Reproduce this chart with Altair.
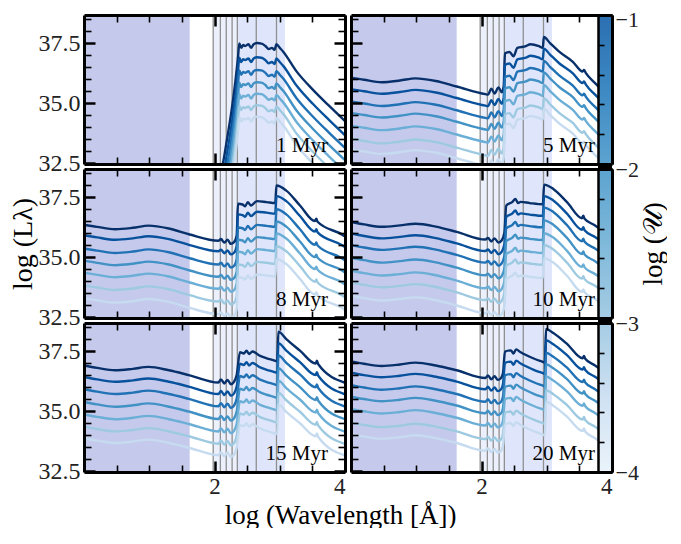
import altair as alt
import pandas as pd

FONT = "Liberation Serif"

AGES = ["1 Myr", "5 Myr", "8 Myr", "10 Myr", "15 Myr", "20 Myr"]
LOGU = [-1.0, -1.5, -2.0, -2.5, -3.0, -3.5, -4.0]

# log U = -1 spectrum of each age (log wavelength [A], log L)
WAVE_1 = [2.06, 2.13, 2.18, 2.26, 2.32, 2.36, 2.38, 2.41, 2.44, 2.47, 2.52, 2.56, 2.60, 2.65, 2.72, 2.78,
          2.83, 2.88, 2.92, 2.95, 3.00, 3.05, 3.26, 3.51, 3.75, 4.0]
LUM_1 = [31.9, 32.5, 33.3, 34.66, 35.9, 36.9, 37.48, 37.3, 37.42, 37.38, 37.45, 37.3, 37.45, 37.5, 37.48, 37.38,
         37.25, 37.3, 37.22, 37.45, 37.3, 37.15, 36.31, 35.55, 34.9, 34.25]
WAVE_5 = [0.0, 0.2, 0.47, 0.75, 0.99, 1.3, 1.62, 2.06, 2.10, 2.15, 2.20, 2.26, 2.31, 2.34, 2.36, 2.43, 2.49,
          2.55, 2.68, 2.75, 2.88, 2.94, 2.955, 3.05, 3.19, 3.40, 3.55, 3.57, 3.60, 3.74, 4.0]
LUM_5 = [36.06, 35.97, 35.87, 35.94, 36.03, 35.92, 35.69, 35.37, 35.35, 35.6, 35.4, 35.65, 35.45, 35.7, 37.07,
         37.13, 36.95, 37.3, 37.37, 37.45, 37.37, 37.3, 37.75, 37.5, 37.14, 36.72, 36.31, 36.38, 36.25, 35.83, 35.2]
WAVE_8 = [0.0, 0.2, 0.48, 0.75, 0.99, 1.3, 1.62, 2.06, 2.10, 2.15, 2.20, 2.25, 2.30, 2.34, 2.36, 2.43, 2.47,
          2.51, 2.56, 2.65, 2.80, 2.93, 2.95, 3.10, 3.31, 3.54, 3.56, 3.58, 3.97, 4.0]
LUM_8 = [36.35, 36.26, 36.16, 36.22, 36.31, 36.19, 35.94, 35.68, 35.75, 35.6, 35.72, 35.55, 35.62, 35.9, 37.22,
         37.19, 37.12, 37.29, 37.15, 37.33, 37.29, 37.25, 37.98, 37.77, 37.15, 36.5, 36.6, 36.47, 35.91, 35.85]
WAVE_10 = [0.0, 0.2, 0.47, 0.75, 0.99, 1.3, 1.62, 2.06, 2.10, 2.15, 2.20, 2.26, 2.31, 2.35, 2.38, 2.47, 2.52,
           2.56, 2.60, 2.74, 2.94, 2.96, 3.10, 3.31, 3.54, 3.56, 3.58, 3.74, 4.0]
LUM_10 = [36.46, 36.36, 36.26, 36.32, 36.39, 36.27, 36.05, 35.73, 35.8, 35.65, 35.78, 35.6, 35.7, 36.0, 37.15,
          37.29, 37.42, 37.25, 37.3, 37.25, 37.2, 38.02, 37.84, 37.29, 36.62, 36.72, 36.6, 36.32, 35.8]
WAVE_15 = [0.0, 0.2, 0.48, 0.75, 0.99, 1.3, 1.62, 2.06, 2.10, 2.15, 2.20, 2.25, 2.30, 2.34, 2.39, 2.45, 2.49,
           2.53, 2.58, 2.70, 2.80, 2.90, 2.96, 2.98, 3.10, 3.31, 3.55, 3.57, 3.59, 4.0]
LUM_15 = [36.9, 36.8, 36.7, 36.76, 36.84, 36.7, 36.49, 36.19, 36.32, 36.15, 36.3, 36.12, 36.22, 36.5, 37.45,
          37.4, 37.52, 37.38, 37.48, 37.3, 37.2, 37.12, 37.07, 38.31, 38.0, 37.52, 36.98, 37.1, 36.95, 36.18]
WAVE_20 = [0.0, 0.2, 0.47, 0.75, 0.99, 1.3, 1.62, 2.06, 2.10, 2.15, 2.20, 2.25, 2.30, 2.33, 2.36, 2.45, 2.49,
           2.53, 2.60, 2.81, 2.94, 2.97, 2.99, 3.10, 3.31, 3.55, 3.57, 3.59, 3.74, 4.0]
LUM_20 = [37.07, 36.97, 36.88, 36.94, 37.02, 36.9, 36.7, 36.38, 36.48, 36.32, 36.45, 36.3, 36.38, 36.6, 37.48,
          37.53, 37.4, 37.57, 37.45, 37.18, 37.05, 37.02, 38.42, 38.25, 37.8, 37.2, 37.3, 37.18, 36.9, 36.4]

# drop of each lower-U curve below the log U = -1 curve (dex), per age
DROP_1 = [0.0, 0.59, 1.12, 1.63, 2.11, 2.59, 3.07]
DROP_5 = [0.0, 0.48, 0.99, 1.47, 2.0, 2.55, 2.99]
DROP_8 = [0.0, 0.44, 0.99, 1.5, 2.0, 2.53, 3.06]
DROP_10 = [0.0, 0.48, 0.96, 1.49, 2.03, 2.52, 3.07]
DROP_15 = [0.0, 0.48, 0.99, 1.52, 2.04, 2.55, 3.03]
DROP_20 = [0.0, 0.47, 0.99, 1.47, 1.98, 2.55, 3.03]

WAVES = [WAVE_1, WAVE_5, WAVE_8, WAVE_10, WAVE_15, WAVE_20]
LUMS = [LUM_1, LUM_5, LUM_8, LUM_10, LUM_15, LUM_20]
DROPS = [DROP_1, DROP_5, DROP_8, DROP_10, DROP_15, DROP_20]

SHADE_XRAY = [0.0, 1.62]
SHADE_EDGE = [1.98, 2.35]
SHADE_EUV = [2.35, 3.08]
EDGE_LINES = [1.98, 2.09, 2.18, 2.27, 2.35, 2.64, 2.95]

X_MAJOR = [2, 4]
X_MINOR = [0.5, 1.0, 1.5, 2.5, 3.0, 3.5]
Y_MAJOR = [32.5, 35.0, 37.5]
Y_MINOR = [33.0, 33.5, 34.0, 34.5, 35.5, 36.0, 36.5, 37.0, 38.0, 38.5]

# colour bar: one segment per row of panels (log U range, tick values)
CB_SEGMENTS = [[-2.0, -1.0], [-3.0, -2.0], [-4.0, -3.0]]
CB_MAJOR = [[-1], [-2], [-3, -4]]
CB_MINOR = [[-1.8, -1.6, -1.4, -1.2], [-2.8, -2.6, -2.4, -2.2], [-3.8, -3.6, -3.4, -3.2]]
CB_COLORS = {-4.0: "#eaf3fb", -3.5: "#cfe1f2", -3.0: "#a5cce4", -2.5: "#7fb9da",
             -2.0: "#5ca3d0", -1.5: "#3d89c3", -1.0: "#2b6fb1"}
CB_X = [3.785, 4.0]

LINE_COLORS = ["#08306b", "#08519c", "#2171b5", "#4292c6", "#6baed6", "#9ecae1", "#c6dbef"]

W, H = 261, 149
ROW_GAP, COL_GAP = 5, 6
XDOM = [0.0, 4.0]
YDOM = [32.46, 38.67]
MAJ, MIN = 11, 7
CB_PX = 14

xs = alt.Scale(domain=XDOM, nice=False, zero=False)
ys = alt.Scale(domain=YDOM, nice=False, zero=False)
CORNERS = pd.DataFrame({"x": XDOM, "y": YDOM})


def tick_axis(orient, values, size, width, labels=False, offset=None, **kw):
    props = dict(orient=orient, values=values, ticks=True, tickSize=size, tickWidth=width,
                 tickColor="black", offset=-size if offset is None else offset, domain=False,
                 labels=labels, grid=False, zindex=3, title=None)
    if labels:
        props.update(labelFont=FONT, labelFontSize=24, labelColor="#222222")
    props.update(kw)
    return alt.Axis(**props)


def frame_axis(orient, offset=0, width=3):
    return alt.Axis(orient=orient, domain=True, domainColor="black", domainWidth=width, ticks=False,
                    labels=False, grid=False, zindex=3, title=None, offset=offset)


def axis_layer(data, xsc, ysc, xa, ya):
    return alt.Chart(data).mark_point(opacity=0, size=1).encode(
        x=alt.X("x:Q", scale=xsc, axis=xa), y=alt.Y("y:Q", scale=ysc, axis=ya))


def colorbar_layers(row):
    lo, hi = CB_SEGMENTS[row]
    cbs = alt.Scale(domain=[lo, hi], nice=False, zero=False)
    span = hi - lo
    stops = [alt.GradientStop(offset=(v - lo) / span, color=c) for v, c in CB_COLORS.items() if lo <= v <= hi]
    grad = alt.Gradient(gradient="linear", x1=0, x2=0, y1=1, y2=0, stops=stops)
    seg = pd.DataFrame({"a": [CB_X[0]], "b": [CB_X[1]], "lo": [lo], "hi": [hi]})
    out = [alt.Chart(seg).mark_rect(color=grad).encode(
        x=alt.X("a:Q", scale=xs, axis=None), x2="b:Q",
        y=alt.Y("lo:Q", scale=cbs, axis=None), y2="hi:Q")]
    if row < 2:
        # black joint between stacked segments (the gap between panel rows)
        gap = ROW_GAP / H * span
        joint = pd.DataFrame({"a": [CB_X[0]], "b": [CB_X[1]], "lo": [lo - gap], "hi": [lo]})
        out.append(alt.Chart(joint).mark_rect(color="black").encode(
            x=alt.X("a:Q", scale=xs, axis=None), x2="b:Q",
            y=alt.Y("lo:Q", scale=cbs, axis=None), y2="hi:Q"))
    corners = pd.DataFrame({"x": XDOM, "y": [lo, hi]})
    tkw = dict(labelFontSize=22)
    if row == 0:
        tkw["labelOffset"] = 4
    if row == 1:
        tkw.update(title="log (𝒰)", titleFont=FONT, titleFontSize=27, titleFontWeight="normal",
                   titleColor="black", titlePadding=2, titleAngle=270, titleBaseline="top")
    out += [
        axis_layer(corners, xs, cbs, None,
                   tick_axis("right", CB_MAJOR[row], CB_PX, 2.5, labels=True, offset=-CB_PX,
                             labelPadding=3, format="d", **tkw)),
        axis_layer(corners, xs, cbs, None, tick_axis("right", CB_MINOR[row], 6, 1.6, offset=-CB_PX)),
        axis_layer(corners, xs, cbs, None, frame_axis("right", offset=-CB_PX, width=2.5)),
    ]
    return out


def panel(i):
    row, col = divmod(i, 2)
    waves, lums, drops = WAVES[i], LUMS[i], DROPS[i]
    recs = []
    for u, d in zip(LOGU, drops):
        for w, l in zip(waves, lums):
            recs.append({"w": w, "L": round(l - d, 3), "logU": u})
    df = pd.DataFrame(recs)

    def shade(span, color):
        d = pd.DataFrame({"a": [span[0]], "b": [span[1]], "lo": [YDOM[0]], "hi": [YDOM[1]]})
        return alt.Chart(d).mark_rect(color=color).encode(
            x=alt.X("a:Q", scale=xs, axis=None), x2="b:Q",
            y=alt.Y("lo:Q", scale=ys, axis=None), y2="hi:Q")

    rules = pd.DataFrame({"w": EDGE_LINES, "lo": YDOM[0], "hi": YDOM[1]})
    layers = [
        shade(SHADE_XRAY, "#c5caed"),
        shade(SHADE_EDGE, "#ebf0fc"),
        shade(SHADE_EUV, "#dfe6fb"),
        alt.Chart(rules).mark_rule(color="#8f8f8f", strokeWidth=1.3).encode(
            x=alt.X("w:Q", scale=xs, axis=None),
            y=alt.Y("lo:Q", scale=ys, axis=None), y2="hi:Q"),
        alt.Chart(df).mark_line(strokeWidth=2.4, clip=True, interpolate="monotone").encode(
            x=alt.X("w:Q", scale=xs, axis=None),
            y=alt.Y("L:Q", scale=ys, axis=None),
            color=alt.Color("logU:O", scale=alt.Scale(domain=LOGU, range=LINE_COLORS), legend=None)),
        alt.Chart(pd.DataFrame({"x": [3.74], "y": [32.95], "t": [AGES[i]]})).mark_text(
            align="right", baseline="alphabetic", font=FONT, fontSize=21, color="black").encode(
            x=alt.X("x:Q", scale=xs, axis=None), y=alt.Y("y:Q", scale=ys, axis=None), text="t:N"),
    ]

    ykw = {}
    if col == 0 and row == 1:
        ykw = dict(title="log (Lλ)", titleFont=FONT, titleFontSize=28, titleFontWeight="normal",
                   titleColor="black", titlePadding=1)
    xkw = {}
    if col == 0 and row == 2:
        xkw = dict(title="log (Wavelength [Å])", titleFont=FONT, titleFontSize=27, titleFontWeight="normal",
                   titleColor="black", titlePadding=4, titleX=256)
    xa_major = tick_axis("bottom", X_MAJOR, MAJ, 2.5, labels=(row == 2), labelPadding=3,
                         labelFontSize=23, **xkw)
    ya_major = tick_axis("left", Y_MAJOR, MAJ, 2.5, labels=(col == 0), labelPadding=4, format=".1f", **ykw)
    layers += [
        axis_layer(CORNERS, xs, ys, xa_major, ya_major),
        axis_layer(CORNERS, xs, ys, tick_axis("bottom", X_MINOR, MIN, 1.6), tick_axis("left", Y_MINOR, MIN, 1.6)),
    ]
    if col == 0:
        layers += [
            axis_layer(CORNERS, xs, ys, tick_axis("top", X_MAJOR, MAJ, 2.5), tick_axis("right", Y_MAJOR, MAJ, 2.5)),
            axis_layer(CORNERS, xs, ys, tick_axis("top", X_MINOR, MIN, 1.6), tick_axis("right", Y_MINOR, MIN, 1.6)),
        ]
    else:
        layers += [
            axis_layer(CORNERS, xs, ys, tick_axis("top", X_MAJOR, MAJ, 2.5), None),
            axis_layer(CORNERS, xs, ys, tick_axis("top", X_MINOR, MIN, 1.6), None),
        ]
        layers += colorbar_layers(row)
    layers += [
        axis_layer(CORNERS, xs, ys, frame_axis("bottom"), frame_axis("left")),
        axis_layer(CORNERS, xs, ys, frame_axis("top"), frame_axis("right")),
    ]
    ch = alt.layer(*layers).properties(width=W, height=H).resolve_axis(x="independent", y="independent")
    if col == 1:
        ch = ch.resolve_scale(y="independent")
    return ch


chart = alt.concat(*[panel(i) for i in range(6)], columns=2,
                   spacing={"row": ROW_GAP, "column": COL_GAP}, bounds="flush").configure(
    font=FONT, padding={"left": 1, "top": 0, "right": 0, "bottom": 0}
).configure_view(strokeWidth=0)

chart.save("out.html", embed_options={"renderer": "svg", "actions": False})
